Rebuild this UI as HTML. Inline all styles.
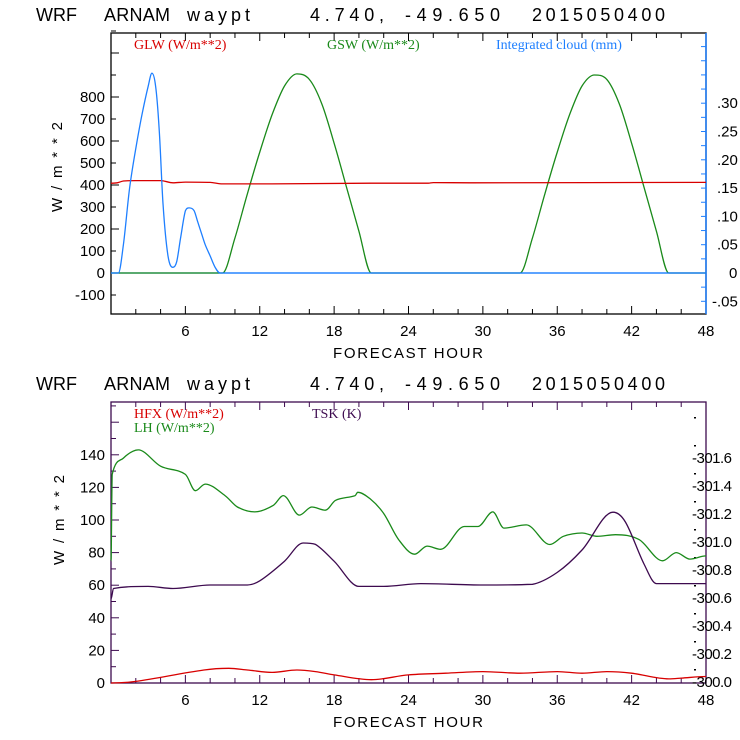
<!DOCTYPE html>
<html><head><meta charset="utf-8"><style>
html,body{margin:0;padding:0;background:#fff;}
svg{display:block;font-family:"Liberation Sans",sans-serif;}
.t{font-size:18px;fill:#000;}
.lab{font-size:15px;fill:#000;}
.lg{font-family:"Liberation Serif",serif;font-size:14px;}
</style></head><body>
<svg id="c" width="740" height="740" viewBox="0 0 740 740">
<g>
<text class="t" x="36" y="21">WRF</text><text class="t" x="104" y="21" textLength="66">ARNAM</text><text class="t" x="187" y="21" textLength="63">waypt</text><text class="t" x="310" y="21" textLength="74">4.740,</text><text class="t" x="405" y="21" textLength="95">-49.650</text><text class="t" x="532" y="21" textLength="133">2015050400</text>
</g>
<g>
<text class="t" x="36" y="390">WRF</text><text class="t" x="104" y="390" textLength="66">ARNAM</text><text class="t" x="187" y="390" textLength="63">waypt</text><text class="t" x="310" y="390" textLength="74">4.740,</text><text class="t" x="405" y="390" textLength="95">-49.650</text><text class="t" x="532" y="390" textLength="133">2015050400</text>
</g>
<g id="top"></g>
<g id="bot"></g>
</svg>
<script>
// ---- top panel data ----
const cloudHours=[0,0.6,1,1.5,2,2.5,3,3.3,3.6,3.9,4.2,4.6,5,5.3,5.6,6,6.3,6.7,7,7.3,7.6,8,8.4,8.8,48];
const cloudVals=[0,0,0.05,0.15,0.22,0.28,0.33,0.353,0.33,0.25,0.12,0.03,0.01,0.02,0.06,0.11,0.115,0.11,0.09,0.07,0.05,0.03,0.01,0,0];
const gswHours=[0,9,10,11,12,13,14,15,16,17,18,19,20,21,33,34,35,36,37,38,39,40,41,42,43,44,45,48];
const gswVals=[0,0,160,360,550,720,850,905,880,770,590,390,190,0,0,160,360,550,720,850,900,880,770,590,390,190,0,0];
const glwHours=[0,0.5,1,2,4,5,6,8,9,13,21,25.6,26,29,48];
const glwVals=[408,410,418,420,420,410,413,412,405,405,408,408,411,410,412];
// ---- bottom panel data ----
const lhHours=[0,0.1,1,2.2,4,6,6.8,7.6,9.2,10.2,11.6,13.1,13.9,15.2,16.2,17.3,18.1,19.7,19.9,20.9,22,23.2,24.5,25.5,26.6,28.5,29.6,30.8,31.7,33.5,35.4,36.5,38,39.2,40.7,42.6,44.5,45.6,46.7,48];
const lhVals=[75,128,138,143,133,128,118,122,115,108,105,109,115,103,108,106,112,115,117,113,104,88,79,84,82,96,96,105,95,97,85,90,92,90,91,88,75,80,76,78];
const tskHours=[0,0.2,3,5,8,11,12,14,15.5,16.5,18,20,22,25,30,34,36,38,40.5,41.5,43,44,48];
const tskVals=[300.6,300.675,300.69,300.675,300.70,300.70,300.73,300.87,301.0,300.99,300.87,300.69,300.69,300.71,300.70,300.705,300.79,300.95,301.22,301.15,300.85,300.71,300.71];
const hfxHours=[0,2,7.5,9.5,11,13,15,16.5,18,21,24,27,30,33,36,38,40,42,45,46,48];
const hfxVals=[0,1,8,9,8,6.5,8,7,5,2,5,6,7,6,7,6,7,6,2.5,3,4];
const xTickLabels=[6,12,18,24,30,36,42,48];

const NS="http://www.w3.org/2000/svg";
function mk(p,tag,a){const e=document.createElementNS(NS,tag);for(const k in a)e.setAttribute(k,a[k]);p.appendChild(e);return e;}
const X0=111,X1=706;
const xs=h=>X0+(X1-X0)*h/48;

function panel(g,top,bot,yl,color){
  const r=mk(g,'rect',{x:X0,y:top,width:X1-X0,height:bot-top,fill:'none',stroke:color,'stroke-width':1.3});
  
  
  for(let h=2;h<48;h+=2){const L=h%6==0?8:5;
    mk(g,'line',{x1:xs(h),x2:xs(h),y1:bot,y2:bot-L,stroke:color});
    mk(g,'line',{x1:xs(h),x2:xs(h),y1:top,y2:top+L,stroke:color});}
  xTickLabels.forEach(h=>{const t=mk(g,'text',{x:xs(h),y:bot+22,'text-anchor':'middle',class:'lab','font-size':17});t.textContent=h;
    
    });
  const xt=mk(g,'text',{x:408,y:bot+44,'text-anchor':'middle',class:'lab','font-size':17,textLength:150});xt.textContent='FORECAST HOUR';
  
  
  const yt=mk(g,'text',{x:0,y:0,'text-anchor':'middle',class:'lab',transform:`translate(${yl[0]},${yl[1]}) rotate(-90)`,'font-size':19,textLength:90});yt.textContent='W/m**2';
  
  
}
function line(g,hs,vs,ys,col,name){
  const P=hs.map((h,i)=>[xs(h),ys(vs[i])]);
  let d='M'+P[0][0].toFixed(1)+','+P[0][1].toFixed(1);
  for(let i=0;i<P.length-1;i++){
    const p0=P[Math.max(0,i-1)],p1=P[i],p2=P[i+1],p3=P[Math.min(P.length-1,i+2)];
    let c1y=p1[1]+(p2[1]-p0[1])/6*(p2[0]-p1[0])/Math.max(1e-6,(p2[0]-p0[0])/2);
    let c2y=p2[1]-(p3[1]-p1[1])/6*(p2[0]-p1[0])/Math.max(1e-6,(p3[0]-p1[0])/2);
    const lo=Math.min(p1[1],p2[1]),hi=Math.max(p1[1],p2[1]);
    if((p1[1]-p0[1])*(p2[1]-p1[1])<=0)c1y=p1[1];
    if((p2[1]-p1[1])*(p3[1]-p2[1])<=0)c2y=p2[1];
    c1y=Math.min(hi,Math.max(lo,c1y));c2y=Math.min(hi,Math.max(lo,c2y));
    const dx=(p2[0]-p1[0])/3;
    d+=`C${(p1[0]+dx).toFixed(1)},${c1y.toFixed(1)} ${(p2[0]-dx).toFixed(1)},${c2y.toFixed(1)} ${p2[0].toFixed(1)},${p2[1].toFixed(1)}`;
  }
  const p=mk(g,'path',{d:d,fill:'none',stroke:col,'stroke-width':1.3,'stroke-linejoin':'round'});
  
  
}
function legend(g,x,y,txt,col,name){const t=mk(g,'text',{x:x,y:y,class:'lg',fill:col});t.textContent=txt;
  
  }

// top
const T=document.getElementById('top');
const yT=v=>273-v*0.22, yC=v=>273-v/0.05*28.3;
panel(T,33,314,[62,167],'#000');
mk(T,'line',{x1:X1,x2:X1,y1:33,y2:314,stroke:'#1e7fff','stroke-width':1.5});
for(let v=-100;v<=1100;v+=100){mk(T,'line',{x1:X0,x2:X0+(v%200==0?8:5),y1:yT(v),y2:yT(v),stroke:'#000'});
  if(v<=800){const t=mk(T,'text',{x:105,y:yT(v)+5,'text-anchor':'end',class:'lab'});t.textContent=v;
  
  }}
for(let v=-0.075;v<=0.45;v+=0.025){const y=yC(v);if(y<33||y>314)continue;mk(T,'line',{x1:X1,x2:X1-5,y1:y,y2:y,stroke:'#1e7fff'});}
[-0.05,0,0.05,0.1,0.15,0.2,0.25,0.3].forEach(v=>{const t=mk(T,'text',{x:v<0?712:(v==0?729:717),y:yC(v)+5,class:'lab','font-size':13});
  t.textContent=v==0?'0':(v<0?'-':'')+Math.abs(v).toFixed(2).replace(/^0/,'');
  
  });
mk(T,'line',{x1:X0,x2:X1,y1:yT(0),y2:yT(0),stroke:'#1e7fff','stroke-width':1.3});
line(T,gswHours,gswVals,yT,'#1a8a1a','gsw-line');
line(T,glwHours,glwVals,yT,'#d80000','glw-line');
line(T,cloudHours,cloudVals,yC,'#1e7fff','cloud-line');
legend(T,134,49,'GLW (W/m**2)','#d80000','legend-glw');
legend(T,327,49,'GSW (W/m**2)','#1a8a1a','legend-gsw');
legend(T,496,49,'Integrated cloud (mm)','#1e7fff','legend-cloud');

// bottom
const B=document.getElementById('bot');
const yB=v=>683-v*1.63, yK=k=>683-(k-300)*140;
panel(B,402,683,[64,520],'#3d0a4f');
for(let v=0;v<=170;v+=10){mk(B,'line',{x1:X0,x2:X0+(v%20==0?8:5),y1:yB(v),y2:yB(v),stroke:'#3d0a4f'});
  if(v%20==0&&v<=140){const t=mk(B,'text',{x:105,y:yB(v)+5,'text-anchor':'end',class:'lab'});t.textContent=v;
  
  }}
for(let k=300.1;k<=302;k+=0.2){const y=yK(k);if(y<402)continue;mk(B,'rect',{x:694,y:y,width:2,height:1.5,fill:'#000'});}
[300.0,300.2,300.4,300.6,300.8,301.0,301.2,301.4,301.6].forEach(k=>{const t=mk(B,'text',{x:692,y:yK(k)+4,class:'lab','font-size':11,textLength:40});
  t.textContent='-'+k.toFixed(1);
  
  });
line(B,lhHours,lhVals,yB,'#1a8a1a','lh-line');
line(B,tskHours,tskVals,yK,'#3d0a4f','tsk-line');
line(B,hfxHours,hfxVals,yB,'#d80000','hfx-line');
legend(B,134,418,'HFX (W/m**2)','#d80000','legend-hfx');
legend(B,134,432,'LH  (W/m**2)','#1a8a1a','legend-lh');
legend(B,312,418,'TSK (K)','#3d0a4f','legend-tsk');
</script>
</body></html>
